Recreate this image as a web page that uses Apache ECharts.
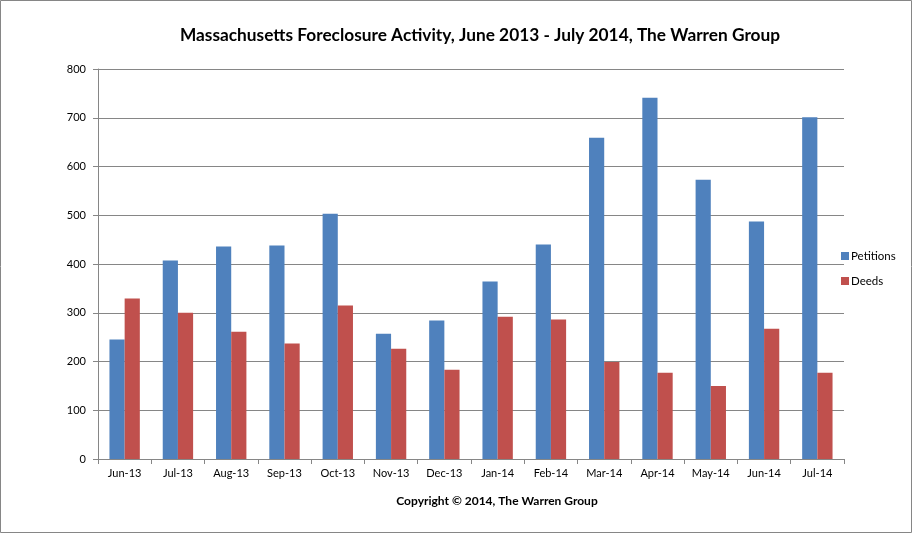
<!DOCTYPE html>
<html>
<head>
<meta charset="utf-8">
<script src="https://cdn.jsdelivr.net/npm/echarts@6/dist/echarts.min.js"></script>
<style>
html,body{margin:0;padding:0;background:#fff;}
#c{width:913px;height:534px;}
</style>
</head>
<body>
<div id="c"></div>
<script>
const categories = ["Jun-13","Jul-13","Aug-13","Sep-13","Oct-13","Nov-13","Dec-13","Jan-14","Feb-14","Mar-14","Apr-14","May-14","Jun-14","Jul-14"];
const petitions = [245,407,436,438,503,257,284,364,440,659,741,573,487,701];
const deeds = [329,300,261,237,315,226,183,292,286,199,177,150,267,177];
const yTicks = [0,100,200,300,400,500,600,700,800];

const chart = echarts.init(document.getElementById('c'), null, {renderer:'canvas'});
const font = 'Lato, "Open Sans", sans-serif';
chart.setOption({
  animation:false,
  backgroundColor:'#fff',
  title:{
    text:'Massachusetts Foreclosure Activity, June 2013 - July 2014, The Warren Group',
    left:475, top:22, textAlign:'center',
    textStyle:{fontFamily:font,fontSize:17.3,fontWeight:'bold',color:'#000'}
  },
  graphic:[
    {type:'rect',shape:{x:0.5,y:0.5,width:911,height:532},style:{fill:'none',stroke:'#868686',lineWidth:1},silent:true},
    {type:'text',x:497,y:495,style:{text:'Copyright \u00A9 2014, The Warren Group',font:'bold 12px '+font,fill:'#000',textAlign:'center'},silent:true}
  ],
  legend:{
    orient:'vertical',
    left:836, top:245,
    itemWidth:8, itemHeight:8, itemGap:13,
    icon:'rect',
    textStyle:{fontFamily:font,fontSize:11.5,color:'#000',padding:[0,0,0,-3]},
    data:['Petitions','Deeds']
  },
  grid:{left:98,right:69,top:69,bottom:75,containLabel:false},
  xAxis:{
    type:'category',
    data:categories,
    boundaryGap:true,
    axisLine:{lineStyle:{color:'#868686'}},
    axisTick:{show:true,alignWithLabel:false,length:5,lineStyle:{color:'#868686'}},
    axisLabel:{fontFamily:font,fontSize:11,color:'#000',margin:9,interval:0}
  },
  yAxis:{
    type:'value',
    min:0,max:800,interval:100,
    axisLine:{show:true,lineStyle:{color:'#868686'}},
    axisTick:{show:true,length:5,lineStyle:{color:'#868686'}},
    splitLine:{lineStyle:{color:'#868686'}},
    axisLabel:{fontFamily:font,fontSize:11,color:'#000',margin:12,
      formatter:function(v){return yTicks.indexOf(v)>=0?String(v):'';}}
  },
  series:[
    {name:'Petitions',type:'bar',data:petitions,barGap:'0%',barCategoryGap:'43%',itemStyle:{color:'#4F81BD'}},
    {name:'Deeds',type:'bar',data:deeds,barGap:'0%',barCategoryGap:'43%',itemStyle:{color:'#C0504D'}}
  ]
});
</script>
</body>
</html>
